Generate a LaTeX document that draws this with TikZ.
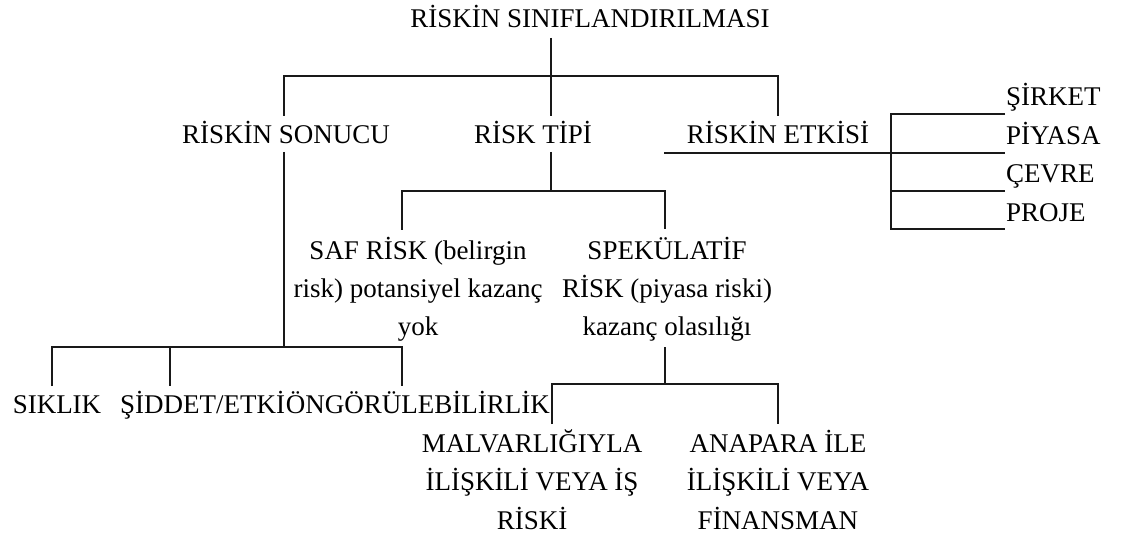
\documentclass[tikz,border=0pt]{standalone}
\usepackage{fontspec}
\setmainfont{Liberation Serif}
\begin{document}
\begin{tikzpicture}[x=1pt,y=-1pt,
  lbl/.style={inner sep=0pt, anchor=base, font=\fontsize{27}{38.5}\selectfont},
  lblw/.style={lbl, anchor=base west},
  lble/.style={lbl, anchor=base east},
  wire/.style={line width=1.6pt, black!90}]
\useasboundingbox (0,0) rectangle (1121,537);

% ---- labels ----
\node[lbl] (root) at (590,28) {RİSKİN SINIFLANDIRILMASI};
\node[lbl] (sonuc) at (286,144) {RİSKİN SONUCU};
\node[lbl] (tip) at (533,144) {RİSK TİPİ};
\node[lbl] (etki) at (778,144) {RİSKİN ETKİSİ};
\node[lblw] (sirket) at (1006,106) {ŞİRKET};
\node[lblw] (piyasa) at (1006,145) {PİYASA};
\node[lblw] (cevre) at (1006,183) {ÇEVRE};
\node[lblw] (proje) at (1006,222) {PROJE};
\node[lbl] (saf) at (418,259) {\begin{tabular}[t]{@{}c@{}}SAF RİSK (belirgin\\ risk) potansiyel kazanç\\ yok\end{tabular}};
\node[lbl] (spek) at (667,259) {\begin{tabular}[t]{@{}c@{}}SPEKÜLATİF\\ RİSK (piyasa riski)\\ kazanç olasılığı\end{tabular}};
\node[lbl] (siklik) at (57,413) {SIKLIK};
\node[lblw] (siddet) at (120,413) {ŞİDDET/ETKİ};
\node[lble] (ongoru) at (550,413) {ÖNGÖRÜLEBİLİRLİK};
\node[lbl] (malv) at (532,452) {\begin{tabular}[t]{@{}c@{}}MALVARLIĞIYLA\\ İLİŞKİLİ VEYA İŞ\\ RİSKİ\end{tabular}};
\node[lbl] (anap) at (778,452) {\begin{tabular}[t]{@{}c@{}}ANAPARA İLE\\ İLİŞKİLİ VEYA\\ FİNANSMAN\end{tabular}};

% ---- junction points ----
\coordinate (root-s) at (551,38);
\coordinate (b1-l) at (284,76);
\coordinate (b1-m) at (551,76);
\coordinate (b1-r) at (778,76);
\coordinate (sonuc-n) at (284,116);
\coordinate (tip-n) at (551,116);
\coordinate (etki-n) at (778,116);

\coordinate (etki-ul-w) at (664,153);
\coordinate (etki-ul-e) at (1005,153);
\coordinate (br-top) at (891,114);
\coordinate (br-bot) at (891,229);
\coordinate (br-mid) at (891,191);
\coordinate (sirket-w) at (1005,114);
\coordinate (cevre-w) at (1005,191);
\coordinate (proje-w) at (1005,229);

\coordinate (sonuc-s) at (284,152);
\coordinate (b3-m) at (284,347);
\coordinate (b3-l) at (52,347);
\coordinate (b3-r) at (402,347);
\coordinate (b3-c) at (170,347);
\coordinate (siklik-n) at (52,386);
\coordinate (siddet-n) at (170,386);
\coordinate (ongoru-n) at (402,386);

\coordinate (tip-s) at (551,152);
\coordinate (b2-m) at (551,191);
\coordinate (b2-l) at (402,191);
\coordinate (b2-r) at (665,191);
\coordinate (saf-n) at (402,230);
\coordinate (spek-n) at (665,229);

\coordinate (spek-s) at (665,347);
\coordinate (b4-m) at (665,384);
\coordinate (b4-l) at (552,384);
\coordinate (b4-r) at (778,384);
\coordinate (malv-n) at (552,424);
\coordinate (anap-n) at (778,424);

% ---- connectors ----
\draw[wire] (root-s) -- (tip-n);
\draw[wire] (sonuc-n) -- (b1-l) -- (b1-r) -- (etki-n);

\draw[wire] (etki-ul-w) -- (etki-ul-e);
\draw[wire] (sirket-w) -- (br-top) -- (br-bot) -- (proje-w);
\draw[wire] (br-mid) -- (cevre-w);

\draw[wire] (sonuc-s) -- (b3-m);
\draw[wire] (siklik-n) -- (b3-l) -- (b3-r) -- (ongoru-n);
\draw[wire] (b3-c) -- (siddet-n);

\draw[wire] (tip-s) -- (b2-m);
\draw[wire] (saf-n) -- (b2-l) -- (b2-r) -- (spek-n);

\draw[wire] (spek-s) -- (b4-m);
\draw[wire] (malv-n) -- (b4-l) -- (b4-r) -- (anap-n);
\end{tikzpicture}
\end{document}
